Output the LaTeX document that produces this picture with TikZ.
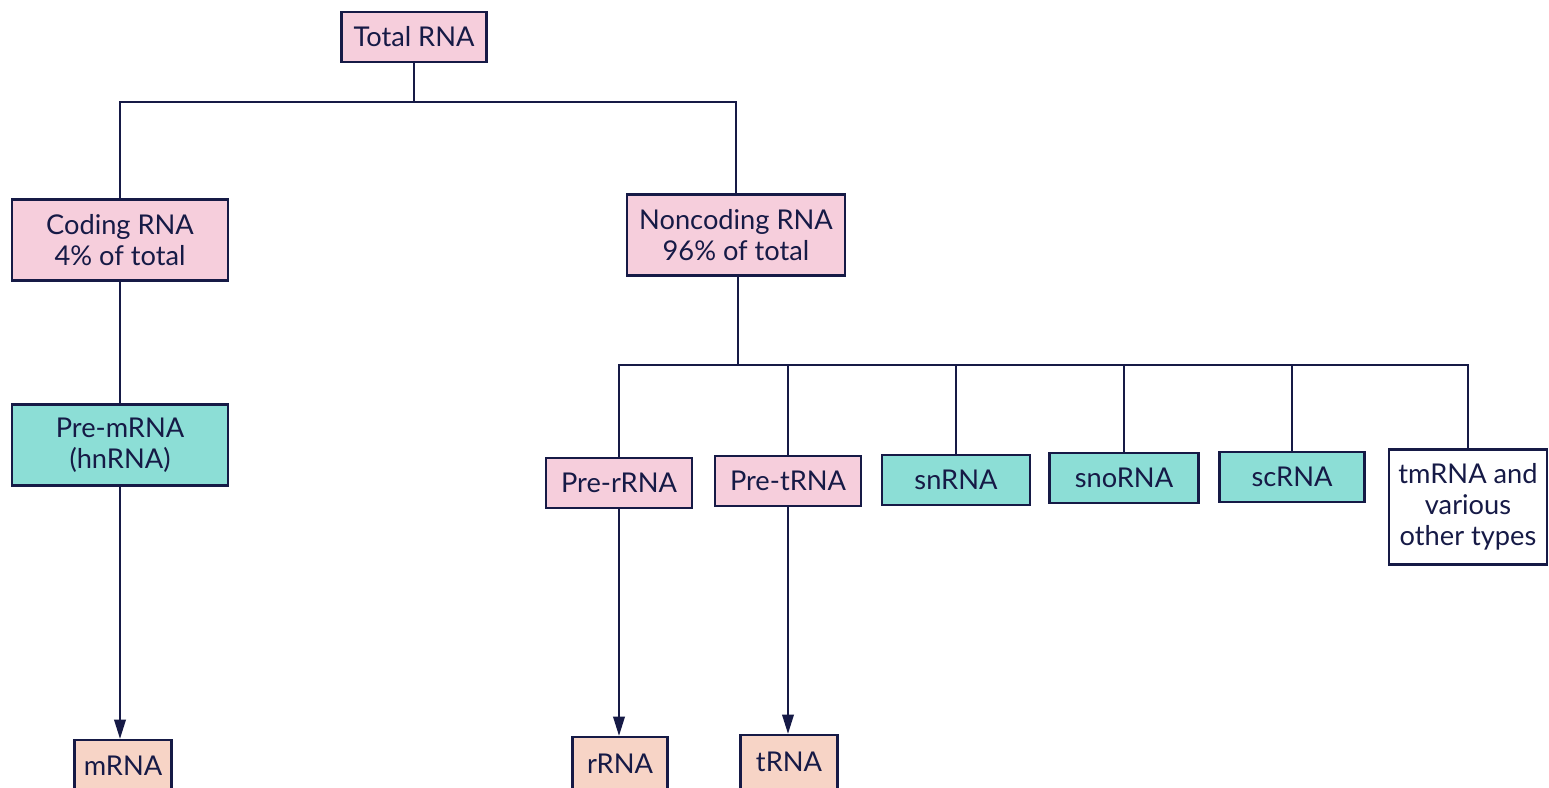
\documentclass[tikz,border=0pt]{standalone}
\usepackage{fontspec}
\setmainfont{Lato}
\usetikzlibrary{arrows.meta}
\definecolor{edge}{RGB}{22,26,70}
\definecolor{pinkfill}{RGB}{246,206,220}
\definecolor{peachfill}{RGB}{247,212,198}
\definecolor{cyanfill}{RGB}{140,222,214}
\tikzset{
  rnabox/.style={draw=edge, line width=1.2pt, text=edge, align=center, inner sep=0pt},
  pinkbox/.style={rnabox, fill=pinkfill},
  peachbox/.style={rnabox, fill=peachfill},
  cyanbox/.style={rnabox, fill=cyanfill},
  whitebox/.style={rnabox, fill=white},
  link/.style={draw=edge, line width=1.3pt},
  arrowlink/.style={link, -{Triangle[length=11pt, width=6.5pt]}}
}
\begin{document}
\begin{tikzpicture}[x=0.02cm, y=-0.02cm]
\fontsize{15.5}{17.5}\selectfont
\clip (0,0) rectangle (1549,788);
\fill[white] (0,0) rectangle (1549,788);
\node (total) at (414,37) [pinkbox, minimum width=145*0.02cm, minimum height=50*0.02cm] {Total RNA};
\node (coding) at (120,240) [pinkbox, minimum width=216*0.02cm, minimum height=81*0.02cm] {Coding RNA\\4\% of total};
\node (noncoding) at (736,235) [pinkbox, minimum width=218*0.02cm, minimum height=81*0.02cm] {Noncoding RNA\\96\% of total};
\node (premrna) at (120,445) [cyanbox, minimum width=216*0.02cm, minimum height=81*0.02cm] {Pre-mRNA\\(hnRNA)};
\node (prerrna) at (619,483) [pinkbox, minimum width=146*0.02cm, minimum height=50*0.02cm] {Pre-rRNA};
\node (pretrna) at (788,481) [pinkbox, minimum width=146*0.02cm, minimum height=50*0.02cm] {Pre-tRNA};
\node (snrna) at (956,480) [cyanbox, minimum width=148*0.02cm, minimum height=50*0.02cm] {snRNA};
\node (snorna) at (1124,478) [cyanbox, minimum width=149*0.02cm, minimum height=50*0.02cm] {snoRNA};
\node (scrna) at (1292,477) [cyanbox, minimum width=145*0.02cm, minimum height=50*0.02cm] {scRNA};
\node (tmrna) at (1468,507) [whitebox, minimum width=158*0.02cm, minimum height=115*0.02cm] {tmRNA and\\various\\other types};
\node (mrna) at (123,766) [peachbox, minimum width=97*0.02cm, minimum height=52*0.02cm] {mRNA};
\node (rrna) at (620,764) [peachbox, minimum width=95*0.02cm, minimum height=54*0.02cm] {rRNA};
\node (trna) at (789,762) [peachbox, minimum width=97*0.02cm, minimum height=54*0.02cm] {tRNA};
\coordinate (split1) at (414,102);
\coordinate (split2) at (738,365);
\draw[link] (total.south) -- (split1);
\draw[link] (coding.north) |- (split1) -| (noncoding.north);
\draw[link] (coding) -- (premrna);
\draw[link] (noncoding.south -| split2) -- (split2);
\draw[link] (prerrna.north) |- (split2) -| (tmrna.north);
\foreach \n in {pretrna,snrna,snorna,scrna}
  \draw[link] (\n.north) -- (\n.north |- split2);
\draw[arrowlink] (premrna.south) -- (premrna.south |- mrna.north);
\draw[arrowlink] (prerrna.south) -- (prerrna.south |- rrna.north);
\draw[arrowlink] (pretrna.south) -- (pretrna.south |- trna.north);
\end{tikzpicture}
\end{document}
